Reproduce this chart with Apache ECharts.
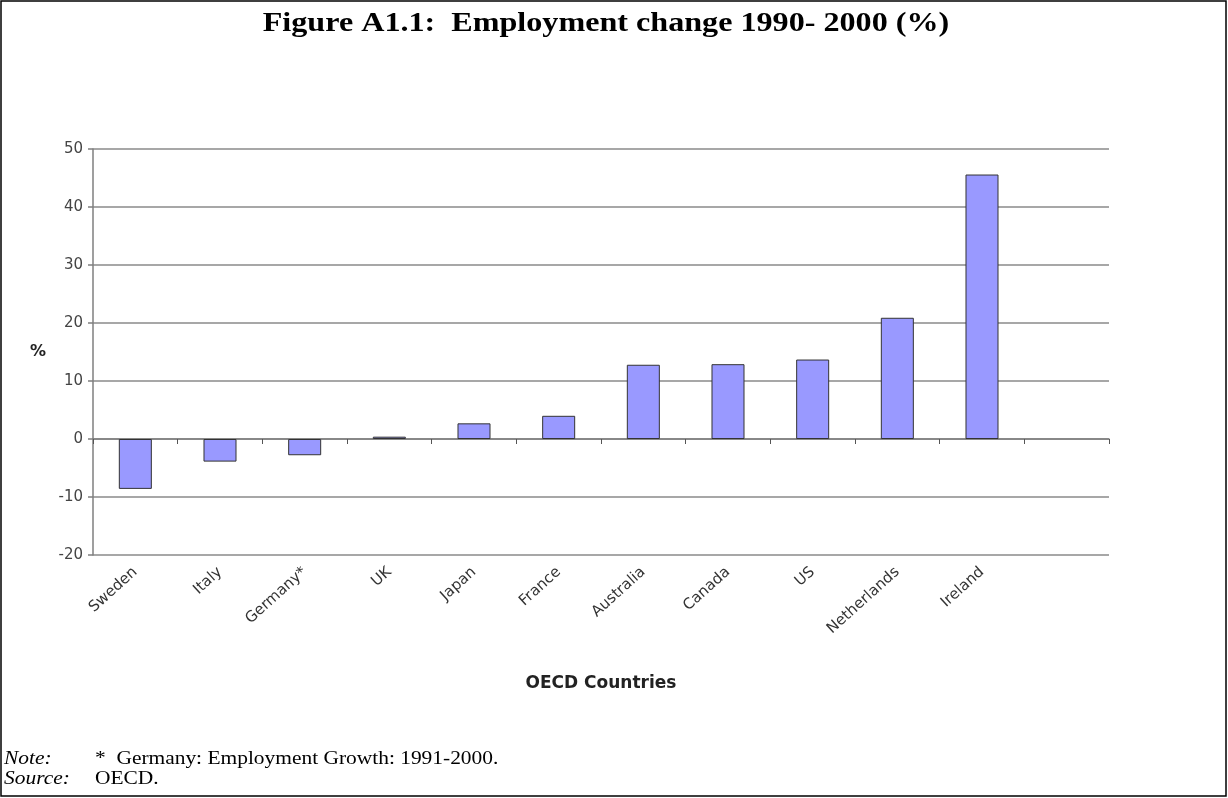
<!DOCTYPE html>
<html>
<head>
<meta charset="utf-8">
<script src="https://cdn.jsdelivr.net/npm/echarts@6/dist/echarts.min.js"></script>
<style>
  html, body { margin: 0; padding: 0; background: #fff; }
  #chart { width: 1228px; height: 798px; }
</style>
</head>
<body>
<div id="chart"></div>
<script>
// OECD employment change, 1990-2000 (%); the trailing empty slot keeps the spare category on the right
const countries = ['Sweden', 'Italy', 'Germany*', 'UK', 'Japan', 'France', 'Australia', 'Canada', 'US', 'Netherlands', 'Ireland', ''];
const employmentChange = [-8.6, -3.9, -2.8, 0.4, 2.7, 4.0, 12.8, 12.9, 13.7, 20.9, 45.6, null];
const yTicks = { min: -20, max: 50, step: 10 };

const chart = echarts.init(document.getElementById('chart'), null, { renderer: 'canvas' });

const axisGrey = '#7f7f7f';
const labelFont = '"DejaVu Sans", Arial, sans-serif';
const serif = '"Times New Roman", "Liberation Serif", serif';
const wide = 1.19; // horizontal stretch of the serif captions

chart.setOption({
  animation: false,
  backgroundColor: '#fff',
  grid: { left: 93, right: 119, top: 149, bottom: 243, containLabel: false },
  xAxis: [
    {
      // category labels along the bottom of the plot
      type: 'category',
      data: countries,
      position: 'bottom',
      boundaryGap: true,
      axisLine: { show: false, onZero: false },
      axisTick: { show: false },
      splitLine: { show: false },
      axisLabel: {
        rotate: 42,
        interval: 0,
        margin: 15,
        fontFamily: labelFont,
        fontSize: 15,
        color: '#333'
      },
      name: 'OECD Countries',
      nameLocation: 'middle',
      nameGap: 120,
      nameTextStyle: { fontFamily: labelFont, fontSize: 17, fontWeight: 'bold', color: '#222' }
    },
    {
      // zero line with category divider ticks
      type: 'category',
      data: countries,
      position: 'bottom',
      boundaryGap: true,
      axisLine: { show: true, onZero: true, lineStyle: { color: axisGrey, width: 1.5 } },
      axisTick: { show: true, length: 5, inside: false, lineStyle: { color: '#555', width: 1 } },
      axisLabel: { show: false },
      splitLine: { show: false }
    }
  ],
  yAxis: {
    type: 'value',
    min: yTicks.min,
    max: yTicks.max,
    interval: yTicks.step,
    axisLine: { show: true, lineStyle: { color: axisGrey, width: 1.5 } },
    axisTick: { show: true, length: 5, lineStyle: { color: axisGrey, width: 1.5 } },
    splitLine: { show: true, lineStyle: { color: '#8a8a8a', width: 1.5 } },
    axisLabel: { fontFamily: labelFont, fontSize: 15, color: '#444', margin: 10 },
    name: '%',
    nameLocation: 'middle',
    nameRotate: 0,
    nameGap: 47,
    nameTextStyle: { fontFamily: labelFont, fontSize: 16, fontWeight: 'bold', color: '#222' }
  },
  series: [{
    type: 'bar',
    xAxisIndex: 0,
    data: employmentChange,
    barWidth: '39%',
    itemStyle: { color: '#9999ff', borderColor: '#333', borderWidth: 1 }
  }],
  graphic: [
    {
      type: 'rect',
      shape: { x: 1, y: 1, width: 1225, height: 795 },
      style: { fill: 'none', stroke: '#000', lineWidth: 1.5 },
      silent: true
    },
    {
      type: 'text', x: 606, y: 24, scaleX: wide,
      style: { text: 'Figure A1.1:  Employment change 1990- 2000 (%)', font: 'bold 27px ' + serif, fill: '#000', align: 'center', verticalAlign: 'middle' }
    },
    {
      type: 'text', x: 4, y: 759, scaleX: wide,
      style: { text: 'Note:', font: 'italic 18px ' + serif, fill: '#000', verticalAlign: 'middle' }
    },
    {
      type: 'text', x: 95, y: 759, scaleX: wide,
      style: { text: '*  Germany: Employment Growth: 1991-2000.', font: '18px ' + serif, fill: '#000', verticalAlign: 'middle' }
    },
    {
      type: 'text', x: 4, y: 779, scaleX: wide,
      style: { text: 'Source:', font: 'italic 18px ' + serif, fill: '#000', verticalAlign: 'middle' }
    },
    {
      type: 'text', x: 95, y: 779, scaleX: wide,
      style: { text: 'OECD.', font: '18px ' + serif, fill: '#000', verticalAlign: 'middle' }
    }
  ]
});
</script>
</body>
</html>
